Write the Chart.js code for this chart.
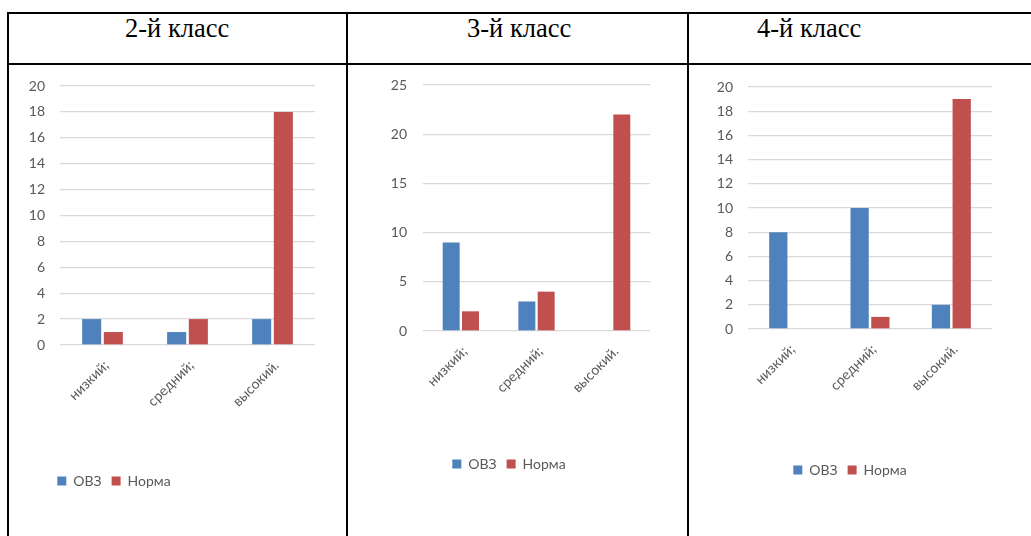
<!DOCTYPE html>
<html lang="ru">
<head>
<meta charset="utf-8">
<title>Уровни по классам</title>
<script src="https://cdn.jsdelivr.net/npm/chart.js@4.4.1/dist/chart.umd.min.js"></script>
<style>
  html, body { margin: 0; padding: 0; background: #fff; }
  #sheet { position: relative; width: 1031px; height: 536px; overflow: hidden; background: #fff; }
  .rule { position: absolute; background: #000; }
  .head { position: absolute; top: 15px; font: 26.5px "Liberation Serif", "Times New Roman", serif; line-height: 1; color: #000; white-space: nowrap; }
  canvas { position: absolute; top: 66px; }
</style>
</head>
<body>
<div id="sheet">
  <div class="rule" style="left:7px; top:12px; width:1024px; height:2px;"></div>
  <div class="rule" style="left:7px; top:63px; width:1024px; height:2px;"></div>
  <div class="rule" style="left:7px; top:12px; width:2px; height:524px;"></div>
  <div class="rule" style="left:346px; top:12px; width:2px; height:524px;"></div>
  <div class="rule" style="left:687px; top:12px; width:2px; height:524px;"></div>

  <div class="head" style="left:125px;">2-й класс</div>
  <div class="head" style="left:467px;">3-й класс</div>
  <div class="head" style="left:757px;">4-й класс</div>

  <canvas id="grade2" width="336" height="470" style="left:10px;"></canvas>
  <canvas id="grade3" width="337" height="470" style="left:349px;"></canvas>
  <canvas id="grade4" width="341" height="470" style="left:690px;"></canvas>
</div>

<script>
const levels = ["низкий;", "средний;", "высокий."];
const seriesNames = ["ОВЗ", "Норма"];

const grade2Ovz = [2, 1, 2];
const grade2Norm = [1, 2, 18];
const grade3Ovz = [9, 3, 0];
const grade3Norm = [2, 4, 22];
const grade4Ovz = [8, 10, 2];
const grade4Norm = [0, 1, 19];

const BLUE = "#4f81bd";
const RED = "#c0504d";
const TEXT = "#595959";
const GRID = "#d9d9d9";
const FONT = { family: "Lato, 'Open Sans', sans-serif", size: 14 };

// moves the bottom legend so its row is centred on a given point
const placeLegend = {
  id: "placeLegend",
  afterLayout(chart, args, opts) {
    const lg = chart.legend;
    if (!lg || opts.x == null) return;
    const pad = lg.options.labels.padding;
    const dx = opts.x - (lg.left + lg.right) / 2;
    const dy = opts.y - (lg.top + pad + FONT.size / 2);
    lg.left += dx; lg.right += dx;
    lg.top += dy; lg.bottom += dy;
  }
};

function makeChart(id, ovz, norm, yMax, yStep, box) {
  const ctx = document.getElementById(id).getContext("2d");
  return new Chart(ctx, {
    type: "bar",
    data: {
      labels: levels,
      datasets: [
        { label: seriesNames[0], data: ovz, backgroundColor: BLUE,
          categoryPercentage: 0.51, barPercentage: 0.88 },
        { label: seriesNames[1], data: norm, backgroundColor: RED,
          categoryPercentage: 0.51, barPercentage: 0.88 }
      ]
    },
    options: {
      responsive: false,
      animation: false,
      layout: { padding: { left: 10, right: box.right, top: box.top, bottom: box.bottom } },
      scales: {
        x: {
          grid: { display: false, drawTicks: false },
          border: { display: false },
          ticks: { color: TEXT, font: FONT, minRotation: 45, maxRotation: 45,
                   padding: 12, labelOffset: 4, autoSkip: false },
          afterFit(s) { s.height = 100; }
        },
        y: {
          min: 0,
          max: yMax,
          // invisible tick marks keep the labels clear of the plot
          grid: { color: GRID, lineWidth: 1.3, drawTicks: true,
                  tickLength: box.tickGap, tickColor: "rgba(0,0,0,0)" },
          border: { display: false },
          ticks: { color: TEXT, font: FONT, stepSize: yStep, padding: 0 },
          afterFit(s) { s.width = box.axisW; }
        }
      },
      plugins: {
        legend: {
          position: "bottom",
          labels: { color: TEXT, font: FONT, boxWidth: 9, boxHeight: 9, padding: 10 }
        },
        tooltip: { enabled: false },
        placeLegend: { x: box.legendX, y: box.legendY }
      }
    },
    plugins: [placeLegend]
  });
}

makeChart("grade2", grade2Ovz, grade2Norm, 20, 2,
  { axisW: 40, tickGap: 15, right: 31, top: 20, bottom: 57, legendX: 104, legendY: 415 });
makeChart("grade3", grade3Ovz, grade3Norm, 25, 5,
  { axisW: 64, tickGap: 16, right: 36, top: 19, bottom: 71, legendX: 160, legendY: 398 });
makeChart("grade4", grade4Ovz, grade4Norm, 20, 2,
  { axisW: 48, tickGap: 15, right: 39, top: 21, bottom: 73, legendX: 160, legendY: 404 });
</script>
</body>
</html>
